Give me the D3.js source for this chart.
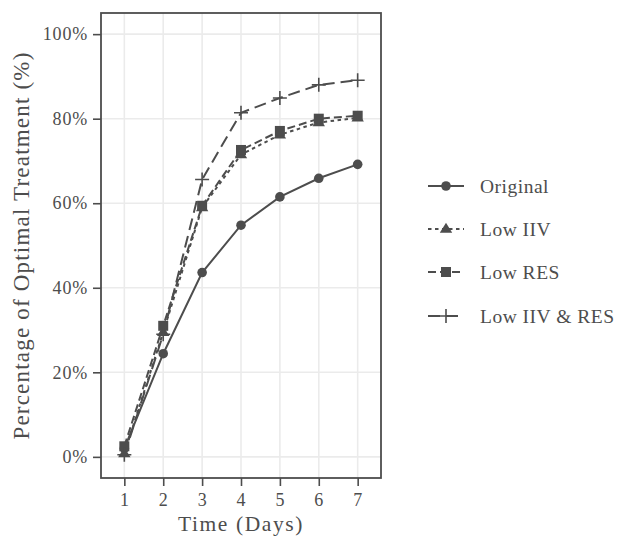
<!DOCTYPE html>
<html>
<head>
<meta charset="utf-8">
<script src="https://cdn.jsdelivr.net/npm/d3@7"></script>
<style>
  body { margin: 0; background: white; }
  svg text { font-family: "Liberation Serif", "DejaVu Serif", serif !important; fill: #4d4d4d; }
</style>
</head>
<body>
<div id="chart"></div>
<script>
// data (percent of optimal treatment per day)
var days = [1, 2, 3, 4, 5, 6, 7];
var original = [2.0, 24.4, 43.6, 54.8, 61.5, 65.9, 69.2];
var lowIIV = [0.8, 29.5, 59.0, 71.5, 76.2, 79.1, 80.2];
var lowRES = [2.5, 31.0, 59.4, 72.6, 77.1, 80.0, 80.7];
var lowBoth = [0.5, 29.0, 65.6, 81.4, 84.9, 88.0, 89.1];
var yTicks = [0, 20, 40, 60, 80, 100];

var seriesNames = ["Original", "Low IIV", "Low RES", "Low IIV & RES"];
var seriesValues = [original, lowIIV, lowRES, lowBoth];
var dashes = [null, "3.5,3.5", "8,4", "12,6"];
var shapes = ["circle", "triangle", "square", "plus"];

var width = 617, height = 537;
var panel = {left: 101, right: 381, top: 13, bottom: 478};
var ink = "#4d4d4d";
var serif = "'Liberation Serif', 'DejaVu Serif', serif";

var svg = d3.select("#chart").append("svg")
    .attr("width", width)
    .attr("height", height);

var x = d3.scaleLinear().domain([0.4, 7.6]).range([panel.left, panel.right]);
var y = d3.scaleLinear().domain([-5, 105]).range([panel.bottom, panel.top]);

// panel grid
var grid = svg.append("g");
grid.selectAll(".gx").data(days).enter().append("line")
    .attr("x1", d => x(d)).attr("x2", d => x(d))
    .attr("y1", panel.top).attr("y2", panel.bottom)
    .attr("stroke", "#ebebeb").attr("stroke-width", 1.6);
grid.selectAll(".gy").data(yTicks).enter().append("line")
    .attr("x1", panel.left).attr("x2", panel.right)
    .attr("y1", d => y(d)).attr("y2", d => y(d))
    .attr("stroke", "#ebebeb").attr("stroke-width", 1.6);

// axes
var xAxis = svg.append("g")
    .attr("transform", "translate(0," + panel.bottom + ")")
    .call(d3.axisBottom(x).tickValues(days).tickSize(8).tickPadding(7).tickFormat(d3.format("d")));
var yAxis = svg.append("g")
    .attr("transform", "translate(" + panel.left + ",0)")
    .call(d3.axisLeft(y).tickValues(yTicks).tickSize(8).tickPadding(5).tickFormat(d => d + "%"));
[xAxis, yAxis].forEach(function(a) {
    a.attr("font-family", serif);
    a.select(".domain").remove();
    a.selectAll(".tick line").attr("stroke", ink).attr("stroke-width", 1.6);
    a.selectAll(".tick text").attr("font-size", 18).attr("fill", ink)
        .attr("letter-spacing", 0.8);
});

// lines
var line = d3.line().x((d, i) => x(days[i])).y(d => y(d));
var plot = svg.append("g");
seriesValues.forEach(function(vals, k) {
    plot.append("path")
        .datum(vals)
        .attr("d", line)
        .attr("fill", "none")
        .attr("stroke", ink)
        .attr("stroke-width", 2)
        .attr("stroke-dasharray", dashes[k]);
});

function drawShape(g, shape, cx, cy) {
    if (shape == "circle") {
        g.append("circle").attr("cx", cx).attr("cy", cy).attr("r", 4.8).attr("fill", ink);
    } else if (shape == "square") {
        g.append("rect").attr("x", cx - 5).attr("y", cy - 5).attr("width", 10).attr("height", 10).attr("fill", ink);
    } else if (shape == "triangle") {
        var s = 6.2;
        g.append("path")
            .attr("d", "M" + cx + "," + (cy - s) + "L" + (cx + s) + "," + (cy + s * 0.6) + "L" + (cx - s) + "," + (cy + s * 0.6) + "Z")
            .attr("fill", ink);
    } else {
        var p = 7;
        g.append("path")
            .attr("d", "M" + (cx - p) + "," + cy + "H" + (cx + p) + "M" + cx + "," + (cy - p) + "V" + (cy + p))
            .attr("stroke", ink).attr("stroke-width", 1.6).attr("fill", "none");
    }
}

seriesValues.forEach(function(vals, k) {
    vals.forEach(function(v, i) {
        drawShape(plot, shapes[k], x(days[i]), y(v));
    });
});

// panel border
svg.append("rect")
    .attr("x", panel.left).attr("y", panel.top)
    .attr("width", panel.right - panel.left)
    .attr("height", panel.bottom - panel.top)
    .attr("fill", "none").attr("stroke", ink).attr("stroke-width", 1.8);

// axis titles
svg.append("text")
    .attr("x", (panel.left + panel.right) / 2).attr("y", 531)
    .attr("text-anchor", "middle").attr("font-size", 21.5)
    .attr("letter-spacing", 1.6)
    .text("Time (Days)");
svg.append("text")
    .attr("transform", "translate(29," + ((panel.top + panel.bottom) / 2) + ") rotate(-90)")
    .attr("text-anchor", "middle").attr("font-size", 23)
    .attr("letter-spacing", 1.2)
    .text("Percentage of Optimal Treatment (%)");

// legend
var legendY = [186, 229, 272, 316];
var legend = svg.append("g");
seriesNames.forEach(function(name, k) {
    var ly = legendY[k];
    legend.append("line")
        .attr("x1", 428).attr("x2", 464)
        .attr("y1", ly).attr("y2", ly)
        .attr("stroke", ink).attr("stroke-width", 2)
        .attr("stroke-dasharray", dashes[k]);
    drawShape(legend, shapes[k], 446, ly);
    legend.append("text")
        .attr("x", 480).attr("y", ly + 6.5)
        .attr("font-size", 19.5)
        .attr("letter-spacing", 0.5)
        .text(name);
});
</script>
</body>
</html>
